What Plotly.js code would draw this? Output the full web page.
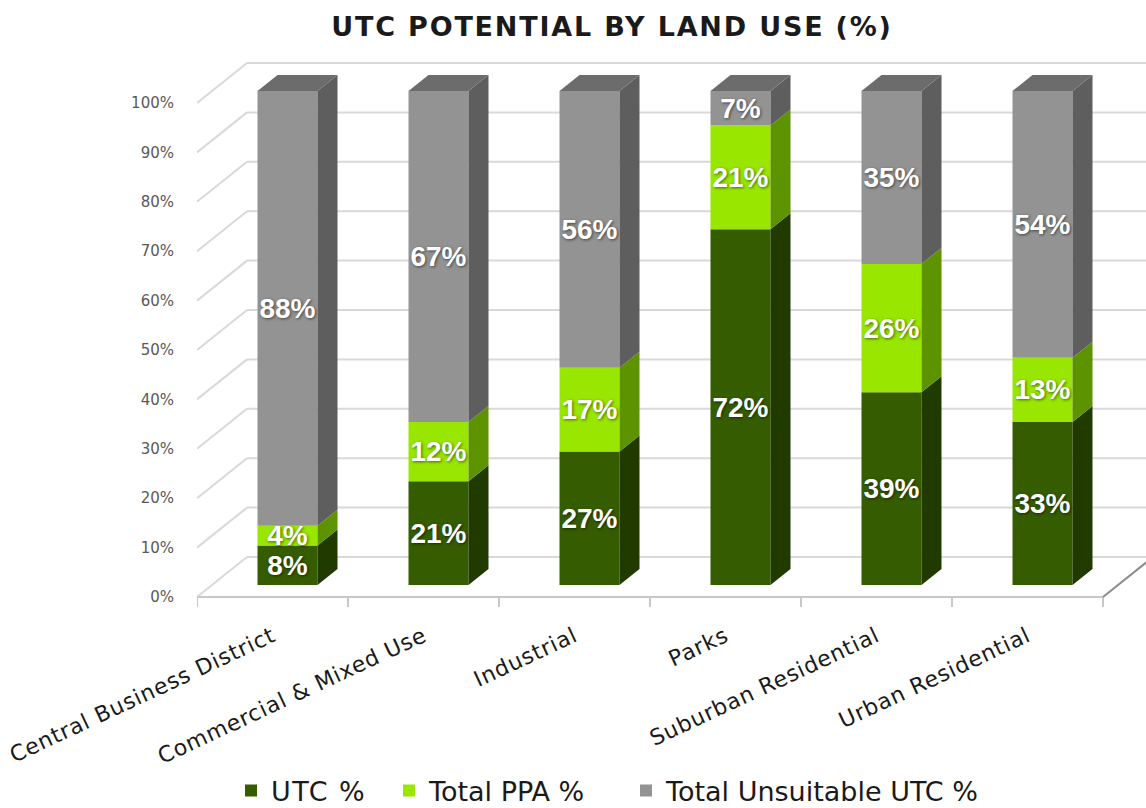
<!DOCTYPE html>
<html>
<head>
<meta charset="utf-8">
<script src="https://cdn.plot.ly/plotly-3.0.1.min.js"></script>
<style>
html,body{margin:0;padding:0;background:#fff;}
#chart{width:1146px;height:808px;}
#chart .gtitle{letter-spacing:1.8px;}
#chart .xtick text{letter-spacing:0.8px;}
#chart .legendtext{letter-spacing:1.5px;}
</style>
</head>
<body>
<div id="chart"></div>
<script>
// ---- data ----
const categories = ['Central Business District', 'Commercial & Mixed Use', 'Industrial', 'Parks', 'Suburban Residential', 'Urban Residential'];
const utcPct = [8, 21, 27, 72, 39, 33];
const ppaPct = [4, 12, 17, 21, 26, 13];
const unsuitablePct = [88, 67, 56, 7, 35, 54];
const seriesNames = ['UTC %', 'Total PPA %', 'Total Unsuitable UTC %'];
const yTickValues = [0, 10, 20, 30, 40, 50, 60, 70, 80, 90, 100];

// ---- styling / geometry (pseudo-3D) ----
const frontColors = ['#365C00', '#99E600', '#939393'];
const sideColors = ['#213A00', '#5E9300', '#5E5E5E'];
const topColor = '#6C6C6C';
const PX_CAT = 151, PX_PCT = 4.94;
const ML = 197, MR = 0, MT = 50, MB = 196, W = 1146, H = 808;
const plotW = W - ML - MR, plotH = H - MT - MB;
const xRange = [-0.5, -0.5 + plotW / PX_CAT];
const y0px = 597; // pixel of 0% on the front frame
const yRange = [-(H - MB - y0px) / PX_PCT, (y0px - MT) / PX_PCT];
const dxFull = 50 / PX_CAT, dyFull = 40 / PX_PCT;   // back wall depth
const fx = 15 / PX_CAT, fy = 12 / PX_PCT;           // bar front face depth
const sx = 20 / PX_CAT, sy = 16 / PX_PCT;           // bar depth
const barW = 60 / PX_CAT;
const legendIds = ['legend', 'legend2', 'legend3'];
const legendLeftPx = [231, 389, 626];

const seriesVals = [utcPct, ppaPct, unsuitablePct];
const traces = [];
const cum = categories.map(() => 0);
const sideTraces = [];
seriesVals.forEach((vals, s) => {
  const bases = vals.map((v, i) => cum[i] + fy);
  const xs = categories.map((c, i) => i + fx);
  traces.push({
    type: 'bar', name: seriesNames[s], legend: legendIds[s], x: xs, y: vals, base: bases, width: barW,
    marker: {color: frontColors[s], line: {width: 0}},
    text: vals.map(v => v + '%'), textposition: 'inside', insidetextanchor: 'middle',
    textangle: 0, constraintext: 'none',
    textfont: {family: 'Liberation Sans, Arial, sans-serif', size: 28, color: '#ffffff', weight: 'bold', shadow: '1px 1px 3px rgba(0,0,0,0.55)'},
    hoverinfo: 'none'
  });
  vals.forEach((v, i) => {
    const b0 = bases[i], b1 = b0 + v;
    const xr = i + fx + barW / 2;
    sideTraces.push({
      type: 'scatter', mode: 'lines', showlegend: false, hoverinfo: 'skip',
      x: [xr, xr + sx, xr + sx, xr, xr], y: [b0, b0 + sy, b1 + sy, b1, b0],
      fill: 'toself', fillcolor: sideColors[s], line: {width: 0, color: sideColors[s]}
    });
    cum[i] += v;
  });
});
// top faces
categories.forEach((c, i) => {
  const top = cum[i] + fy;
  const xl = i + fx - barW / 2, xr = i + fx + barW / 2;
  sideTraces.push({
    type: 'scatter', mode: 'lines', showlegend: false, hoverinfo: 'skip',
    x: [xl, xl + sx, xr + sx, xr, xl], y: [top, top + sy, top + sy, top, top],
    fill: 'toself', fillcolor: topColor, line: {width: 0, color: topColor}
  });
});

// walls / floor as shapes
const shapes = [];
yTickValues.forEach(v => {
  shapes.push({type: 'line', xref: 'x', yref: 'y', layer: 'below', x0: -0.5 + dxFull, x1: xRange[1] + 1, y0: v + dyFull, y1: v + dyFull, line: {color: '#D9D9D9', width: 2}});
  shapes.push({type: 'line', xref: 'x', yref: 'y', layer: 'below', x0: -0.5, x1: -0.5 + dxFull, y0: v, y1: v + dyFull, line: {color: '#D9D9D9', width: 2}});
});
shapes.push({type: 'line', xref: 'x', yref: 'y', layer: 'below', x0: -0.5, x1: categories.length - 0.5, y0: 0, y1: 0, line: {color: '#C8C8C8', width: 2}});
for (let k = 0; k <= categories.length; k++) {
  shapes.push({type: 'line', xref: 'x', yref: 'y', layer: 'below', x0: k - 0.5, x1: k - 0.5, y0: 0, y1: -10 / PX_PCT, line: {color: '#C8C8C8', width: 2}});
}
shapes.push({type: 'line', xref: 'x', yref: 'y', layer: 'below', x0: categories.length - 0.5, x1: categories.length - 0.5 + dxFull, y0: 0, y1: dyFull, line: {color: '#8C8C8C', width: 2}});

const legendStyle = (xpx) => ({orientation: 'h', xref: 'container', yref: 'container', x: xpx / W, xanchor: 'left', y: 17 / H, yanchor: 'middle',
           font: {family: 'DejaVu Sans, sans-serif', size: 27, color: '#1a1a1a'}, bgcolor: 'rgba(0,0,0,0)'});

const layout = {
  width: W, height: H,
  margin: {l: ML, r: MR, t: MT, b: MB},
  paper_bgcolor: '#ffffff', plot_bgcolor: 'rgba(0,0,0,0)',
  barmode: 'overlay',
  title: {text: '<b>UTC POTENTIAL BY LAND USE (%)</b>', x: 612 / W, xanchor: 'center', y: 1 - 27 / H, yanchor: 'middle', yref: 'container', xref: 'container',
          font: {family: 'DejaVu Sans, sans-serif', size: 27, color: '#1a1a1a'}},
  xaxis: {range: xRange, tickvals: categories.map((c, i) => i), ticktext: categories, tickangle: -25,
          showgrid: false, zeroline: false, showline: false, ticks: 'outside', ticklen: 2, tickcolor: 'rgba(0,0,0,0)',
          tickfont: {family: 'DejaVu Sans, sans-serif', size: 22, color: '#1a1a1a'}, fixedrange: true},
  yaxis: {range: yRange, tickvals: yTickValues, ticktext: yTickValues.map(v => v + '%'),
          showgrid: false, zeroline: false, showline: false, ticks: 'outside', ticklen: 19, tickcolor: 'rgba(0,0,0,0)',
          tickfont: {family: 'DejaVu Sans, sans-serif', size: 15, color: '#595959'}, fixedrange: true},
  shapes: shapes,
  showlegend: true,
  legend: legendStyle(legendLeftPx[0]),
  legend2: legendStyle(legendLeftPx[1]),
  legend3: legendStyle(legendLeftPx[2]),
  hovermode: false
};

Plotly.newPlot('chart', sideTraces.concat(traces), layout, {staticPlot: true, displayModeBar: false});
</script>
</body>
</html>
